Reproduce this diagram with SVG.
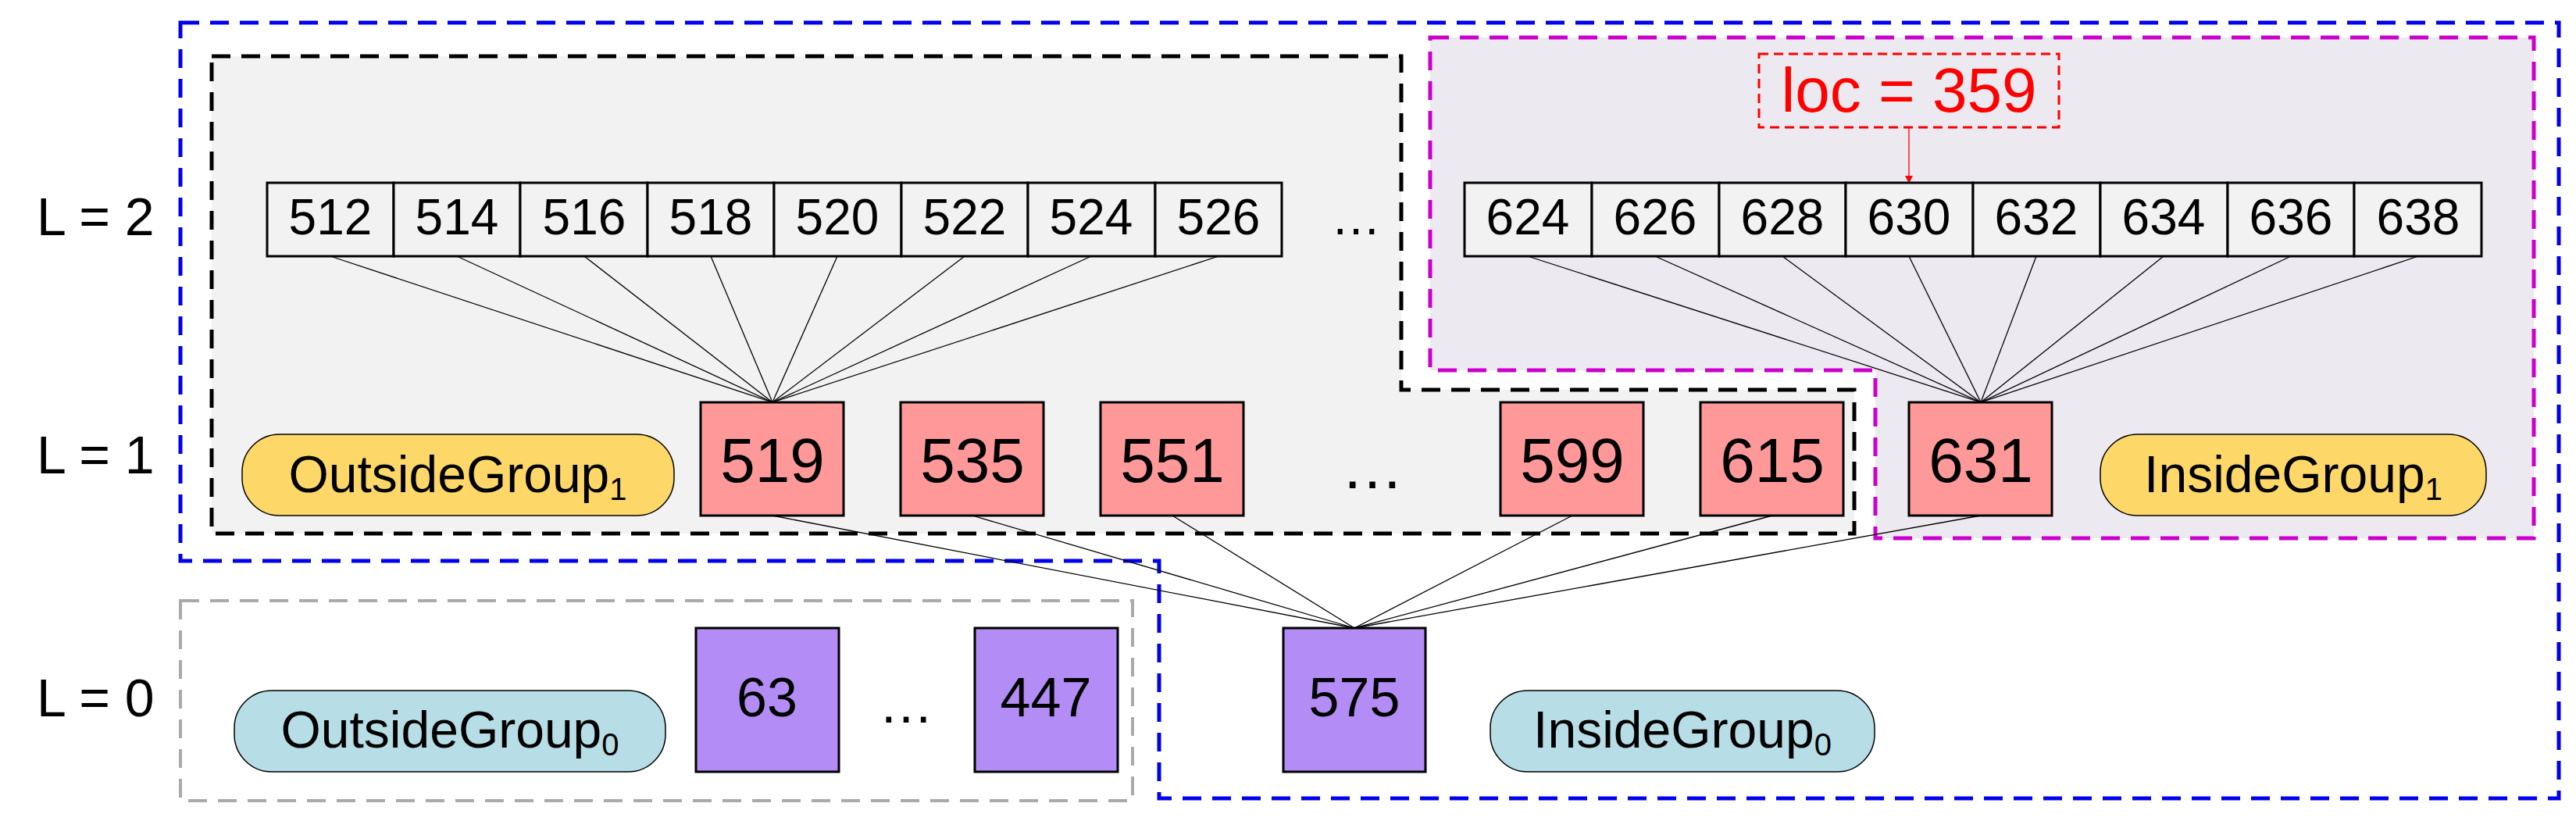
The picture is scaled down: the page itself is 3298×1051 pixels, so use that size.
<svg xmlns="http://www.w3.org/2000/svg" width="3298" height="1051" viewBox="0 0 3298 1051">
<defs>
<style>
text{font-family:"Liberation Sans",Arial,sans-serif;fill:#000}
.lvl{font-size:68px}
.cell{fill:#f2f2f2;stroke:#000;stroke-width:3}
.ct{font-size:64px;text-anchor:middle}
.red{fill:#ff9999;stroke:#000;stroke-width:3}
.pur{fill:#b38cf5;stroke:#000;stroke-width:3}
.bt{font-size:80px;text-anchor:middle}
.pt{font-size:70px;text-anchor:middle}
.gt{font-size:66px;text-anchor:middle}
.sub{font-size:40px}
.con line{stroke:#000;stroke-width:1.3}
</style>
<marker id="ah" markerWidth="10" markerHeight="10" refX="9" refY="5" orient="auto" markerUnits="userSpaceOnUse" viewBox="0 0 10 10"><path d="M0,0 L10,5 L0,10z" fill="#ff0000"/></marker>
</defs>
<rect width="3298" height="1051" fill="#fff"/>
<g id="outsideGroup1Region"><path d="M271,72H1794V499H2374V683H271Z" fill="#f2f2f2" stroke="#000" stroke-width="5" stroke-dasharray="24,14"/></g>
<g id="insideGroup1Region"><path d="M1831,48H3244V689H2401V474H1831Z" fill="#ece9f0" stroke="#cc00cc" stroke-width="5" stroke-dasharray="24,14"/></g>
<g id="outsideGroup0Region"><rect x="231" y="769" width="1219" height="256" fill="none" stroke="#aaaaaa" stroke-width="4" stroke-dasharray="24,14"/></g>
<g id="insideGroup0Region"><path d="M231,29H3276V1022H1484V718H231Z" fill="none" stroke="#0000ee" stroke-width="5" stroke-dasharray="24,14"/></g>
<g id="levels">
<text class="lvl" x="47" y="301">L = 2</text>
<text class="lvl" x="47" y="606">L = 1</text>
<text class="lvl" x="47" y="917">L = 0</text>
</g>
<g class="con" id="connectors">
<line x1="423" y1="328" x2="989" y2="515"/><line x1="585" y1="328" x2="989" y2="515"/><line x1="748" y1="328" x2="989" y2="515"/><line x1="910" y1="328" x2="989" y2="515"/><line x1="1072" y1="328" x2="989" y2="515"/><line x1="1235" y1="328" x2="989" y2="515"/><line x1="1397" y1="328" x2="989" y2="515"/><line x1="1560" y1="328" x2="989" y2="515"/>
<line x1="1956" y1="328" x2="2536" y2="515"/><line x1="2119" y1="328" x2="2536" y2="515"/><line x1="2282" y1="328" x2="2536" y2="515"/><line x1="2444" y1="328" x2="2536" y2="515"/><line x1="2607" y1="328" x2="2536" y2="515"/><line x1="2770" y1="328" x2="2536" y2="515"/><line x1="2933" y1="328" x2="2536" y2="515"/><line x1="3096" y1="328" x2="2536" y2="515"/>
<line x1="989" y1="660" x2="1734" y2="804"/><line x1="1245" y1="660" x2="1734" y2="804"/><line x1="1501" y1="660" x2="1734" y2="804"/><line x1="2013" y1="660" x2="1734" y2="804"/><line x1="2269" y1="660" x2="1734" y2="804"/><line x1="2536" y1="660" x2="1734" y2="804"/>
<line x1="2444" y1="163" x2="2444" y2="234" stroke="#ff0000" stroke-width="3" style="stroke:#ff0000" marker-end="url(#ah)"/>
</g>
<g id="arrayLeft">
<rect class="cell" x="342" y="234" width="162" height="94"/><text class="ct" x="423" y="300">512</text>
<rect class="cell" x="504" y="234" width="162" height="94"/><text class="ct" x="585" y="300">514</text>
<rect class="cell" x="666" y="234" width="163" height="94"/><text class="ct" x="748" y="300">516</text>
<rect class="cell" x="829" y="234" width="162" height="94"/><text class="ct" x="910" y="300">518</text>
<rect class="cell" x="991" y="234" width="163" height="94"/><text class="ct" x="1072" y="300">520</text>
<rect class="cell" x="1154" y="234" width="162" height="94"/><text class="ct" x="1235" y="300">522</text>
<rect class="cell" x="1316" y="234" width="163" height="94"/><text class="ct" x="1397" y="300">524</text>
<rect class="cell" x="1479" y="234" width="162" height="94"/><text class="ct" x="1560" y="300">526</text>
</g>
<g id="dots2"><text class="ct" x="1736" y="300">…</text></g>
<g id="arrayRight">
<rect class="cell" x="1875" y="234" width="163" height="94"/><text class="ct" x="1956" y="300">624</text>
<rect class="cell" x="2038" y="234" width="163" height="94"/><text class="ct" x="2119" y="300">626</text>
<rect class="cell" x="2201" y="234" width="162" height="94"/><text class="ct" x="2282" y="300">628</text>
<rect class="cell" x="2363" y="234" width="163" height="94"/><text class="ct" x="2444" y="300">630</text>
<rect class="cell" x="2526" y="234" width="163" height="94"/><text class="ct" x="2607" y="300">632</text>
<rect class="cell" x="2689" y="234" width="163" height="94"/><text class="ct" x="2770" y="300">634</text>
<rect class="cell" x="2852" y="234" width="162" height="94"/><text class="ct" x="2933" y="300">636</text>
<rect class="cell" x="3014" y="234" width="163" height="94"/><text class="ct" x="3096" y="300">638</text>
</g>
<g id="loc"><rect x="2252" y="69" width="384" height="94" fill="none" stroke="#ff0000" stroke-width="3" stroke-dasharray="12,7"/><text x="2444" y="143" font-size="80" text-anchor="middle" style="fill:#ff0000">loc = 359</text></g>
<g id="n519"><rect class="red" x="897" y="515" width="183" height="145"/><text class="bt" x="989" y="617">519</text></g>
<g id="n535"><rect class="red" x="1153" y="515" width="183" height="145"/><text class="bt" x="1245" y="617">535</text></g>
<g id="n551"><rect class="red" x="1409" y="515" width="183" height="145"/><text class="bt" x="1501" y="617">551</text></g>
<g id="dots1"><text class="bt" x="1757" y="625">…</text></g>
<g id="n599"><rect class="red" x="1921" y="515" width="183" height="145"/><text class="bt" x="2013" y="617">599</text></g>
<g id="n615"><rect class="red" x="2177" y="515" width="183" height="145"/><text class="bt" x="2269" y="617">615</text></g>
<g id="n631"><rect class="red" x="2444" y="515" width="183" height="145"/><text class="bt" x="2536" y="617">631</text></g>
<g id="og1"><rect x="310" y="556" width="553" height="104" rx="48" fill="#fdd868" stroke="#000" stroke-width="1.5"/><text class="gt" x="586" y="630">OutsideGroup<tspan class="sub" dy="10">1</tspan></text></g>
<g id="ig1"><rect x="2689" y="556" width="494" height="104" rx="48" fill="#fdd868" stroke="#000" stroke-width="1.5"/><text class="gt" x="2936" y="630">InsideGroup<tspan class="sub" dy="10">1</tspan></text></g>
<g id="n63"><rect class="pur" x="891" y="804" width="183" height="184"/><text class="pt" x="982" y="917">63</text></g>
<g id="dots0"><text class="pt" x="1160" y="925">…</text></g>
<g id="n447"><rect class="pur" x="1248" y="804" width="183" height="184"/><text class="pt" x="1339" y="917">447</text></g>
<g id="n575"><rect class="pur" x="1643" y="804" width="182" height="184"/><text class="pt" x="1734" y="917">575</text></g>
<g id="og0"><rect x="300" y="884" width="552" height="104" rx="48" fill="#b7dde6" stroke="#000" stroke-width="1.5"/><text class="gt" x="576" y="957">OutsideGroup<tspan class="sub" dy="10">0</tspan></text></g>
<g id="ig0"><rect x="1908" y="884" width="492" height="104" rx="48" fill="#b7dde6" stroke="#000" stroke-width="1.5"/><text class="gt" x="2154" y="957">InsideGroup<tspan class="sub" dy="10">0</tspan></text></g>
</svg>
